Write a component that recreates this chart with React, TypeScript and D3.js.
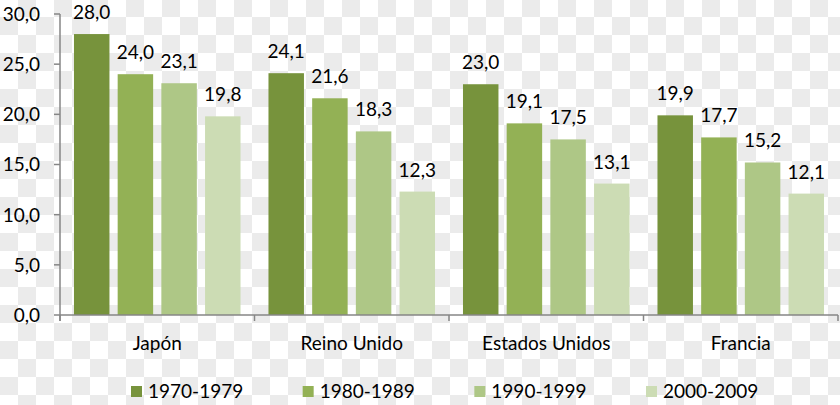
import React from "react";
import * as d3 from "d3";

const categories = ["Japón", "Reino Unido", "Estados Unidos", "Francia"];
const seriesNames = ["1970-1979", "1980-1989", "1990-1999", "2000-2009"];
const s1970 = [28.0, 24.1, 23.0, 19.9];
const s1980 = [24.0, 21.6, 19.1, 17.7];
const s1990 = [23.1, 18.3, 17.5, 15.2];
const s2000 = [19.8, 12.3, 13.1, 12.1];
const seriesValues = [s1970, s1980, s1990, s2000];
const yTicks = [0, 5, 10, 15, 20, 25, 30];
const colors = ["#77933c", "#93b155", "#aec786", "#ccdcb4"];

const W = 840;
const H = 405;
const FONT = "Lato, 'Open Sans', sans-serif";
const FS = 19;

export default function App() {
  const y = d3.scaleLinear().domain([0, 30]).range([315, 14]);
  const x0 = d3.scaleBand<string>().domain(categories).range([60, 838]).paddingInner(0).paddingOuter(0);
  const x1 = d3
    .scaleBand<string>()
    .domain(seriesNames)
    .range([0, x0.bandwidth()])
    .paddingInner(0.188)
    .paddingOuter(0.32);
  const fmt = (v: number) => v.toFixed(1).replace(".", ",");
  const boundaries = categories.map((c) => x0(c) as number).concat([838]);
  const legendX = d3.scalePoint<string>().domain(seriesNames).range([131, 646]);

  return (
    <svg
      width={W}
      height={H}
      style={{ position: "absolute", left: 0, top: 0, fontFamily: FONT }}
    >
      <defs>
        <pattern id="checker" x={0} y={-1} width={36} height={36} patternUnits="userSpaceOnUse">
          <rect x={0} y={0} width={36} height={36} fill="#ffffff" />
          <rect x={18} y={0} width={18} height={18} fill="#ebebeb" />
          <rect x={0} y={18} width={18} height={18} fill="#ebebeb" />
        </pattern>
      </defs>
      <rect x={0} y={0} width={W} height={H} fill="url(#checker)" />

      {/* bars */}
      {categories.map((c, ci) => (
        <g key={c} transform={`translate(${x0(c)},0)`}>
          {seriesNames.map((s, si) => {
            const v = seriesValues[si][ci];
            const bx = x1(s) as number;
            return (
              <g key={s}>
                <rect x={bx} y={y(v)} width={x1.bandwidth()} height={y(0) - y(v)} fill={colors[si]} />
                <text
                  x={bx + x1.bandwidth() / 2}
                  y={y(v) - 15}
                  textAnchor="middle"
                  fontSize={FS}
                  fill="#000"
                >
                  {fmt(v)}
                </text>
              </g>
            );
          })}
        </g>
      ))}

      {/* y axis */}
      <line x1={60} x2={60} y1={y(30)} y2={321} stroke="#868686" strokeWidth={1.5} />
      {yTicks.map((t) => (
        <g key={t}>
          <line x1={54} x2={60} y1={y(t)} y2={y(t)} stroke="#868686" strokeWidth={1.5} />
          <text x={40} y={y(t)} dy="0.36em" textAnchor="end" fontSize={FS} fill="#000">
            {fmt(t)}
          </text>
        </g>
      ))}

      {/* x axis */}
      <line x1={60} x2={838} y1={y(0)} y2={y(0)} stroke="#868686" strokeWidth={1.5} />
      {boundaries.map((b, i) => (
        <line key={i} x1={b} x2={b} y1={y(0)} y2={321} stroke="#868686" strokeWidth={1.5} />
      ))}
      {categories.map((c) => (
        <text
          key={c}
          x={(x0(c) as number) + x0.bandwidth() / 2}
          y={350}
          textAnchor="middle"
          fontSize={FS}
          fill="#000"
        >
          {c}
        </text>
      ))}

      {/* legend */}
      {seriesNames.map((s, si) => (
        <g key={s} transform={`translate(${legendX(s)},0)`}>
          <rect x={0} y={386} width={11} height={11} fill={colors[si]} />
          <text x={17} y={398} fontSize={FS} fill="#000">
            {s}
          </text>
        </g>
      ))}
    </svg>
  );
}
